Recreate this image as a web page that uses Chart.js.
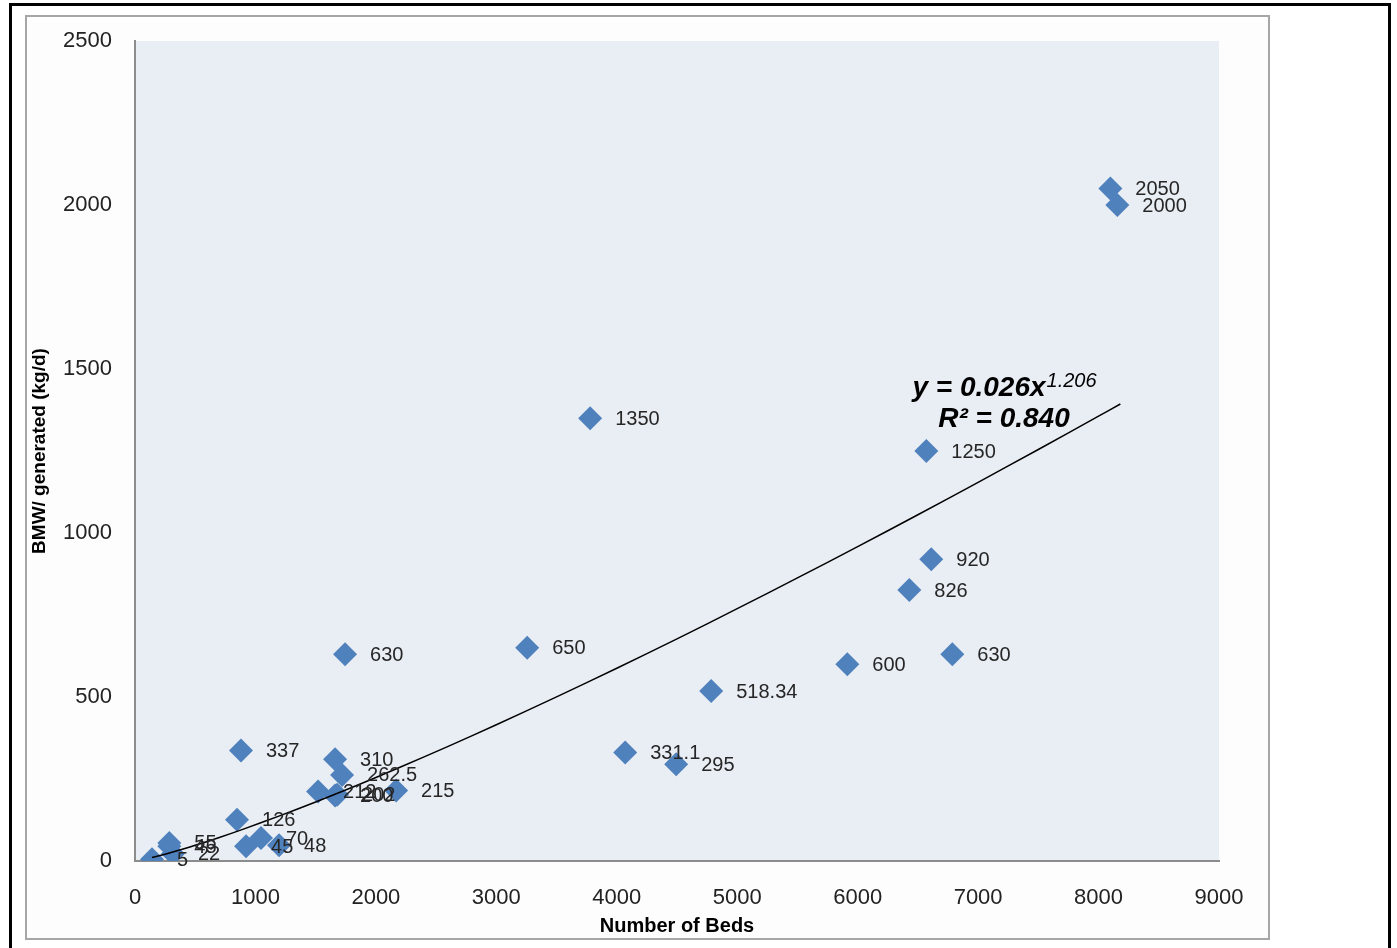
<!DOCTYPE html>
<html><head><meta charset="utf-8">
<script src="https://cdn.jsdelivr.net/npm/chart.js@4.4.1/dist/chart.umd.min.js"></script>
<style>html,body{margin:0;padding:0;background:#fff;overflow:hidden}canvas{display:block}</style>
</head><body><canvas id="c" width="1397" height="948"></canvas>
<script>
// ---- data ----
const beds = [8098, 8156, 3779, 6570, 6611, 6429, 6786, 5914, 4784, 3256, 1744, 880, 1661, 1719, 4070, 4493, 2168, 1520, 1661, 1678, 847, 1046, 922, 1196, 141, 315, 285, 285];
const bmw  = [2050, 2000, 1350, 1250, 920, 826, 630, 600, 518.34, 650, 630, 337, 310, 262.5, 331.1, 295, 215, 212, 200, 202, 126, 70, 45, 48, 5, 22, 45, 55];
const pointLabels = ["2050","2000","1350","1250","920","826","630","600","518.34","650","630","337","310","262.5","331.1","295","215","212","200","202","126","70","45","48","5","22","45","55"];
const xTicks = [0,1000,2000,3000,4000,5000,6000,7000,8000,9000];
const yTicks = [0,500,1000,1500,2000,2500];
// power trendline (unrounded values of the displayed 0.026 / 1.206)
const trendCoef = 0.0265, trendExp = 1.2065;
const trendX = [141,200,300,400,500,700,900,1200,1500,1800,2200,2600,3000,3500,4000,4500,5000,5500,6000,6500,7000,7500,8000,8181];
const trendText1 = "y = 0.026x", trendSup = "1.206", trendText2 = "R\u00b2 = 0.840";
const xTitle = "Number of Beds", yTitle = "BMW/ generated (kg/d)";

const FONT = "'Liberation Sans', Arial, sans-serif";
const scatterPts = beds.map((x,i)=>({x:x, y:bmw[i]}));
const trendPts = trendX.map(x=>({x:x, y:trendCoef*Math.pow(x,trendExp)}));

const frame = {
  id:'frame',
  beforeDraw(chart){
    const ctx = chart.ctx, a = chart.chartArea;
    ctx.save();
    ctx.fillStyle = '#fff'; ctx.fillRect(0,0,chart.width,chart.height);
    ctx.fillStyle = '#fdfdfd'; ctx.fillRect(26,16,1242,923);
    ctx.strokeStyle = '#000'; ctx.lineWidth = 3;
    ctx.strokeRect(10.5,4.5,1379,960);
    ctx.strokeStyle = '#a6a6a6'; ctx.lineWidth = 2;
    ctx.strokeRect(26,16,1243,923);
    ctx.fillStyle = '#e9edf4';
    ctx.fillRect(a.left,a.top,a.right-a.left,a.bottom-a.top);
    ctx.restore();
  },
  afterDatasetsDraw(chart){
    const ctx = chart.ctx;
    const meta = chart.getDatasetMeta(1);
    ctx.save();
    ctx.font = "20px " + FONT;
    ctx.fillStyle = '#262626';
    ctx.textBaseline = 'middle'; ctx.textAlign = 'left';
    meta.data.forEach((el,i)=>{ ctx.fillText(pointLabels[i], el.x+25, el.y+1); });
    // trendline equation
    ctx.fillStyle = '#000';
    const big = "italic bold 28px " + FONT, sup = "italic 20px " + FONT;
    ctx.font = big; const w1 = ctx.measureText(trendText1).width;
    ctx.font = sup; const w2 = ctx.measureText(trendSup).width;
    const cx = 1004; let x0 = cx - (w1+w2)/2;
    ctx.textBaseline = 'alphabetic';
    ctx.font = big; ctx.fillText(trendText1, x0, 396);
    ctx.font = sup; ctx.fillText(trendSup, x0+w1+1, 387);
    ctx.font = big; ctx.textAlign = 'center'; ctx.fillText(trendText2, cx, 427);
    ctx.restore();
  }
};

new Chart(document.getElementById('c'), {
  data:{ datasets:[
    { type:'line', data:trendPts, borderColor:'#000', borderWidth:1.5, pointRadius:0, fill:false, tension:0.3, order:0 },
    { type:'scatter', data:scatterPts, pointStyle:'rectRot', pointRadius:12, backgroundColor:'#4f81bd', borderColor:'#4f81bd', borderWidth:0, order:1 }
  ]},
  options:{
    responsive:false, animation:false, devicePixelRatio:1,
    layout:{ padding:{ left:0, top:41, right:178, bottom:0 } },
    plugins:{ legend:{display:false}, tooltip:{enabled:false} },
    scales:{
      x:{ type:'linear', min:0, max:9000,
        afterBuildTicks(s){ s.ticks = xTicks.map(v=>({value:v})); },
        afterFit(s){ s.height = 87; },
        grid:{ display:false, drawTicks:false },
        border:{ display:true, color:'#8c8c8c', width:2 },
        ticks:{ padding:24, color:'#222', font:{ family:FONT, size:22 }, callback:v=>String(v), maxRotation:0, autoSkip:false },
        title:{ display:true, text:xTitle, color:'#000', font:{ family:FONT, size:20, weight:'bold' }, padding:{top:10,bottom:10} }
      },
      y:{ type:'linear', min:0, max:2500,
        afterBuildTicks(s){ s.ticks = yTicks.map(v=>({value:v})); },
        afterFit(s){ s.width = 135; },
        grid:{ display:false, drawTicks:false },
        border:{ display:true, color:'#8c8c8c', width:2 },
        ticks:{ padding:23, color:'#222', font:{ family:FONT, size:22 }, callback:v=>String(v), autoSkip:false },
        title:{ display:true, text:yTitle, color:'#000', font:{ family:FONT, size:19, weight:'bold' }, padding:{top:28,bottom:28} }
      }
    }
  },
  plugins:[frame]
});
</script></body></html>
